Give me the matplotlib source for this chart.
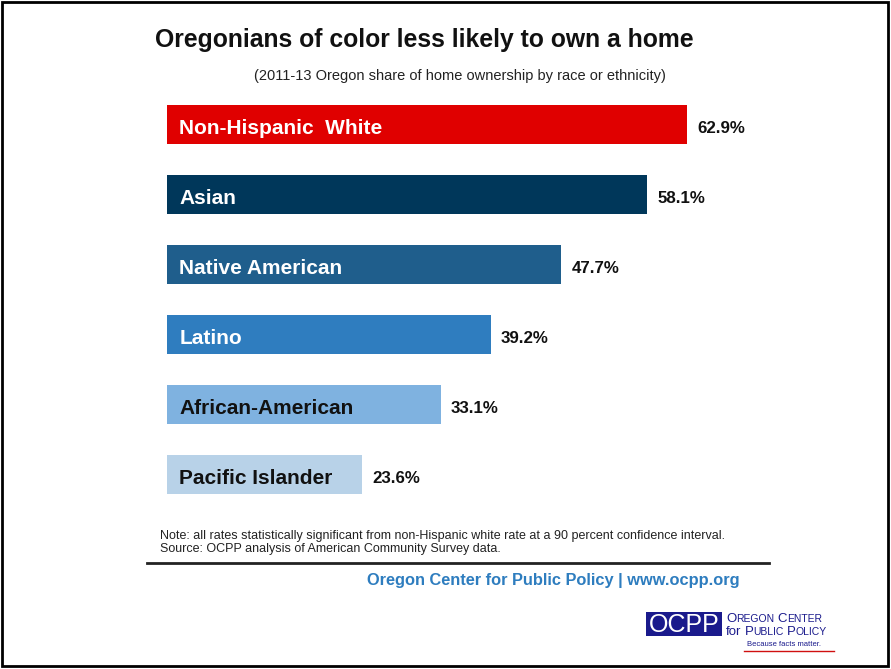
import matplotlib.pyplot as plt
from matplotlib.patches import Rectangle
from matplotlib.lines import Line2D

plt.rcParams['font.family'] = ['Liberation Sans', 'DejaVu Sans']

groups = ['Non-Hispanic  White', 'Asian', 'Native American', 'Latino',
          'African-American', 'Pacific Islander']
shares = [62.9, 58.1, 47.7, 39.2, 33.1, 23.6]
bar_colors = ['#e00000', '#00375a', '#1f5e8c', '#2f7dbf', '#7fb2e0', '#b8d2e8']
name_colors = ['white', 'white', 'white', 'white', '#111111', '#111111']

W, H = 891, 669
fig = plt.figure(figsize=(W / 100, H / 100), dpi=100)
fig.patch.set_facecolor('white')


def fx(px):
    return px / W


def fy(py):
    return 1 - py / H


# bar area: value 0 sits at x=167px, 8.27 px per percentage point
ax = fig.add_axes([fx(167), fy(509.5), fx(80 * 8.27), (509.5 - 89.5) / H])
ypos = list(range(len(groups)))
ax.barh(ypos, shares, height=0.56, color=bar_colors, edgecolor='none')
ax.set_xlim(0, 80)
ax.set_ylim(5.5, -0.5)
ax.axis('off')

for y, v, name, tc in zip(ypos, shares, groups, name_colors):
    ax.text(1.5, y + 0.05, name, color=tc, fontsize=15, fontweight='bold',
            va='center', ha='left')
    ax.text(v + 1.2, y + 0.06, f'{v:.1f}%', color='#111111', fontsize=12.2,
            fontweight='bold', va='center', ha='left')

fig.text(fx(424), fy(39.5), 'Oregonians of color less likely to own a home',
         fontsize=17.8, fontweight='bold', ha='center', va='center', color='#111111')
fig.text(fx(460), fy(76), '(2011-13 Oregon share of home ownership by race or ethnicity)',
         fontsize=10.5, ha='center', va='center', color='#222222')

fig.text(fx(160), fy(536),
         'Note: all rates statistically significant from non-Hispanic white rate at a 90 percent confidence interval.',
         fontsize=9.0, ha='left', va='center', color='#222222')
fig.text(fx(160), fy(549), 'Source: OCPP analysis of American Community Survey data.',
         fontsize=9.0, ha='left', va='center', color='#222222')

fig.add_artist(Line2D([fx(147), fx(769)], [fy(563), fy(563)], color='#222222', lw=2))

fig.text(fx(553), fy(580), 'Oregon Center for Public Policy | www.ocpp.org',
         fontsize=11.8, fontweight='bold', ha='center', va='center', color='#2e7dbf')

# logo block
navy = '#1a1a8c'
fig.add_artist(Rectangle((fx(646), fy(636)), fx(76), (636 - 612) / H,
                         facecolor=navy, edgecolor='none'))
fig.text(fx(684), fy(624.5), 'OCPP', fontsize=18, color='white',
         ha='center', va='center')

renderer = fig.canvas.get_renderer()


def small_caps(x_px, y_px, words, big=9.5, small=7.5):
    # words: list of (lower_prefix, capital, rest) pieces drawn one after another
    x = x_px
    for prefix, cap, rest in words:
        for txt, size in ((prefix, big), (cap, big), (rest, small)):
            if not txt:
                continue
            t = fig.text(fx(x), fy(y_px), txt, fontsize=size, color=navy,
                         ha='left', va='baseline')
            x += t.get_window_extent(renderer).width
        x += 3


small_caps(726, 622, [('', 'O', 'REGON'), ('', 'C', 'ENTER')])
small_caps(726, 635, [('for', '', ''), ('', 'P', 'UBLIC'), ('', 'P', 'OLICY')])
fig.text(fx(747), fy(645), 'Because facts matter.', fontsize=5.5, color=navy,
         ha='left', va='center')
fig.add_artist(Line2D([fx(744), fx(834)], [fy(651), fy(651)], color='#d01010', lw=1))

# outer frame
fig.add_artist(Rectangle((fx(2), fy(666)), fx(886), 664 / H, facecolor='none',
                         edgecolor='black', lw=2))

fig.savefig('out.png', dpi=100)
